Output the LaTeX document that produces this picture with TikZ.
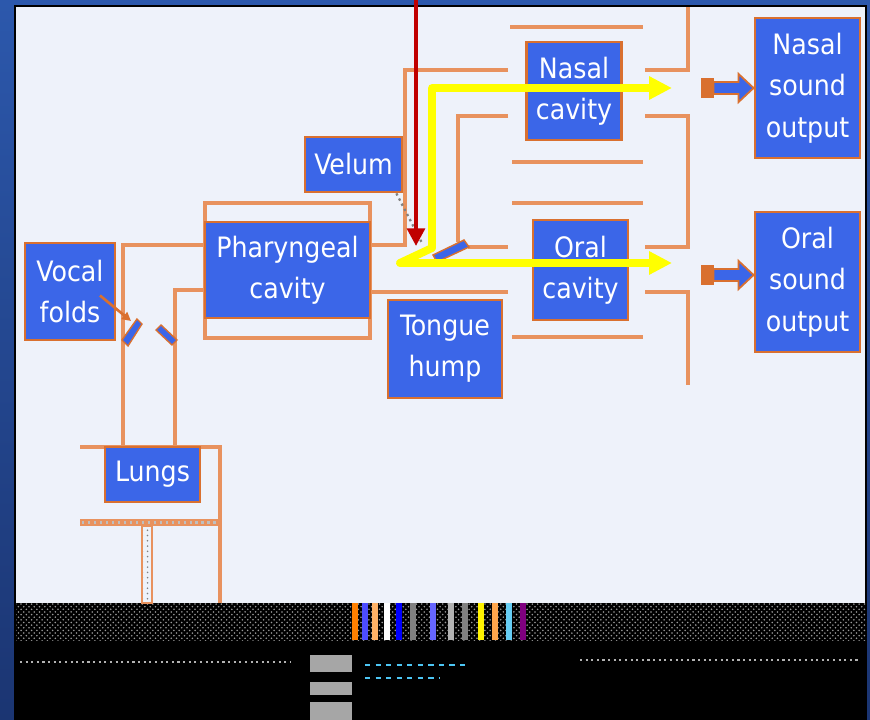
\documentclass[tikz,border=0pt]{standalone}
\usepackage{fontspec}
\setmainfont{DejaVu Sans Condensed}
\usetikzlibrary{arrows.meta,patterns,calc}
\definecolor{boxblue}{HTML}{3B66E8}
\definecolor{boxedge}{HTML}{D9702F}
\definecolor{wallor}{HTML}{E8925E}
\definecolor{panelbg}{HTML}{EEF2FA}
\definecolor{frametop}{HTML}{2C58AC}
\definecolor{framebot}{HTML}{1B3572}
\definecolor{airred}{HTML}{C00000}
\definecolor{airyel}{HTML}{FFFF00}

\begin{document}
\begin{tikzpicture}[x=0.02cm, y=-0.02cm,
  part/.style={draw=boxedge, fill=boxblue, text=white, line width=1.6pt, inner sep=0pt, align=center, font=\fontsize{16}{23.5}\selectfont},
  wall/.style={draw=wallor, line width=1.8pt},
  flap/.style={draw=boxedge, fill=boxblue, line width=0.8pt},
  flow/.style={draw=airyel, line width=4.5pt, line join=round, {Triangle[length=13pt,width=12.5pt]}-{Triangle[length=13pt,width=12.5pt]}},
  outarrow/.style={draw=boxedge, fill=boxblue, line width=1pt},
]
\useasboundingbox (0,0) rectangle (870,720);

% Frame and panel
\shade[top color=frametop, bottom color=framebot] (0,0) rectangle (870,720);
\fill[panelbg] (16,7) rectangle (865,603);
\draw[black, line width=1.2pt] (15,6) rectangle (866,720);

% Scrambled strip at the bottom
\fill[black] (16,603) rectangle (866,720);
\fill[pattern=crosshatch dots, pattern color=gray!80] (16,603) rectangle (866,640);
\foreach \x/\c in {352/orange, 362/blue!70, 372/orange!60, 384/white, 396/blue, 410/gray, 430/blue!60, 448/gray!60, 462/gray, 478/yellow, 492/orange!70, 506/cyan!60, 520/violet} {
  \fill[\c] (\x,603) rectangle ++(6,37);
}
\fill[gray!70] (310,655) rectangle (352,672);
\fill[gray!70] (310,682) rectangle (352,695);
\fill[gray!70] (310,702) rectangle (352,720);
\draw[cyan!70, dashed, line width=1.2pt] (365,665) -- (470,665);
\draw[cyan!70, dashed, line width=1.2pt] (365,678) -- (440,678);
\draw[gray!60, dotted, line width=1.2pt] (20,662) -- (290,662);
\draw[gray!60, dotted, line width=1.2pt] (580,660) -- (860,660);

% Tube walls
\draw[wall] (123,447) -- (123,245) -- (205,245);
\draw[wall] (175,447) -- (175,290) -- (205,290);
\draw[wall] (80,447) -- (220,447) -- (220,603);
\draw[wall] (205,203) rectangle (370,338);
\draw[wall] (370,245) -- (405,245) -- (405,70) -- (508,70);
\draw[wall] (370,292) -- (508,292);
\draw[wall] (510,27) -- (643,27);
\draw[wall] (512,162) -- (643,162);
\draw[wall] (645,70) -- (688,70) -- (688,7);
\draw[wall] (508,116) -- (458,116) -- (458,242);
\draw[wall] (645,116) -- (688,116) -- (688,247) -- (645,247);
\draw[wall] (512,203) -- (643,203);
\draw[wall] (512,337) -- (643,337);
\draw[wall] (468,247) -- (508,247);
\draw[wall] (645,292) -- (688,292) -- (688,385);

% Diaphragm and piston below the lungs
\fill[wallor] (80,519) rectangle (220,526);
\draw[gray!50, dotted, line width=1.4pt] (82,522.5) -- (218,522.5);
\draw[wallor, fill=panelbg, line width=1pt] (142,526) rectangle (152,603);
\fill[pattern=dots, pattern color=gray] (143,527) rectangle (151,602);

% Parts
\node[part, minimum width=1.8cm, minimum height=1.94cm] (folds) at (70,291.5) {Vocal\\folds};
\node[part, minimum width=1.9cm, minimum height=1.1cm] (lungs) at (152.5,474.5) {Lungs};
\node[part, minimum width=3.3cm, minimum height=1.92cm] (phar) at (287.5,270) {Pharyngeal\\cavity};
\node[part, minimum width=1.94cm, minimum height=1.1cm] (velum) at (353.5,164.5) {Velum};
\node[part, minimum width=2.28cm, minimum height=1.96cm] (tongue) at (445,349) {Tongue\\hump};
\node[part, minimum width=1.9cm, minimum height=1.96cm] (nasal) at (574,91) {Nasal\\cavity};
\node[part, minimum width=1.9cm, minimum height=2.0cm] (oral) at (580.5,270) {Oral\\cavity};
\node[part, minimum width=2.1cm, minimum height=2.8cm] (nasalout) at (807.5,88) {Nasal\\sound\\output};
\node[part, minimum width=2.1cm, minimum height=2.8cm] (oralout) at (807.5,282) {Oral\\sound\\output};

% Flaps
\draw[flap] (122,340) -- (128,346) -- (142,324) -- (137,319) -- cycle;
\draw[flap] (156,330) -- (161,325) -- (177,340) -- (172,345) -- cycle;
\draw[flap] (433,255) -- (437,262) -- (469,247) -- (464,240) -- cycle;
\coordinate (foldtip) at (131,321);
\coordinate (velumtip) at (422,243);
\draw[boxedge, line width=1.5pt, -{Triangle[length=5pt,width=5pt]}] ([shift={(30,4)}]folds.center) -- (foldtip);
\draw[gray, dotted, line width=1.3pt] ([xshift=-0.14cm]velum.south east) -- (velumtip);

% Sound leaving the tract
\foreach \o/\dy in {nasalout/0, oralout/-7} {
  \begin{scope}[shift={($(\o.west)+(0,\dy)$)}]
    \fill[boxedge] (-53,-10) rectangle (-40,10);
    \draw[outarrow] (-40,-6) -- (-15,-6) -- (-15,-14) -- (0,0) -- (-15,14) -- (-15,6) -- (-40,6) -- cycle;
  \end{scope}
}

% Air flow
\coordinate (redtop) at (416,0);
\coordinate (redend) at (416,246);
\draw[airred, line width=2.3pt, -{Triangle[length=10pt,width=10pt]}] (redtop) -- (redend);
\coordinate (nasaltip) at (672,88);
\coordinate (oraltip) at (672,263);
\draw[flow] (nasaltip) -- (432,88) -- (432,248) -- (400,263) -- (oraltip);

\end{tikzpicture}
\end{document}
